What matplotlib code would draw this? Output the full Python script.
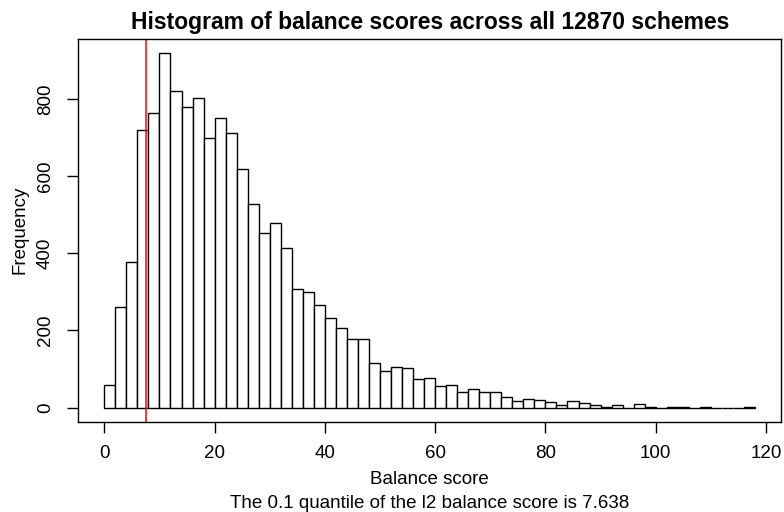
import matplotlib
matplotlib.use("Agg")
import matplotlib.pyplot as plt
import numpy as np

plt.rcParams["font.family"] = ["Liberation Sans", "DejaVu Sans"]

# histogram bins of width 2, counts
bin_edges = np.arange(0, 120, 2)
counts = [59, 260, 377, 720, 763, 920, 822, 779, 803, 700,
          750, 712, 618, 528, 453, 478, 414, 307, 300, 266,
          232, 206, 178, 178, 116, 94, 106, 103, 74, 77,
          56, 58, 39, 47, 40, 40, 27, 18, 22, 19,
          15, 6, 16, 12, 6, 2, 6, 0, 9, 2,
          0, 2, 2, 0, 2, 0, 0, 0, 2]
quantile_10 = 7.638
x_ticks = [0, 20, 40, 60, 80, 100, 120]
y_ticks = [0, 200, 400, 600, 800]

W, H = 784, 512
fig = plt.figure(figsize=(W / 100, H / 100), dpi=100)
ax = fig.add_axes([78.3 / W, 1 - 421.7 / H, (781 - 78.3) / W, (421.7 - 38.7) / H])

ax.bar(bin_edges[:-1], counts, width=2, align="edge", facecolor="white",
       edgecolor="black", linewidth=1.0)
ax.axvline(quantile_10, color="#ff0000", linewidth=1.1)

lo, hi = bin_edges[0], bin_edges[-1]
ax.set_xlim(lo - 0.04 * (hi - lo), hi + 0.04 * (hi - lo))
ymax = max(counts)
ax.set_ylim(-0.04 * ymax, 1.04 * ymax)
ax.set_xticks(x_ticks)
ax.set_yticks(y_ticks)
ax.set_yticklabels([str(v) for v in y_ticks], rotation=90, va="center")
ax.tick_params(axis="both", length=8, width=1.0, labelsize=13.5, direction="out")
ax.tick_params(axis="x", pad=8.5)
ax.tick_params(axis="y", pad=9.5)
for sp in ax.spines.values():
    sp.set_linewidth(1.0)

fig.text(429.7 / W, 1 - 22 / H, "Histogram of balance scores across all 12870 schemes",
         ha="center", va="center", fontsize=16.5, fontweight="bold")
fig.text(429.7 / W, 1 - 480 / H, "Balance score", ha="center", va="center", fontsize=13.5)
fig.text(429.7 / W, 1 - 503 / H, "The 0.1 quantile of the l2 balance score is 7.638",
         ha="center", va="center", fontsize=13.5)
fig.text(20 / W, 1 - 230 / H, "Frequency", ha="center", va="center",
         rotation=90, fontsize=13.5)

fig.savefig("out.png", dpi=100)
plt.close(fig)
